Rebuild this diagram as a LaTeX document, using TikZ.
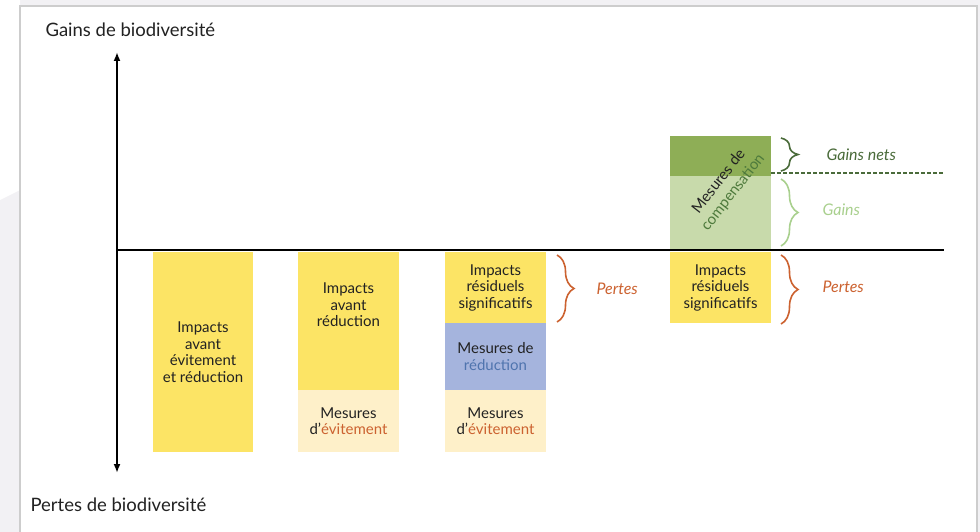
\documentclass[tikz,border=0pt]{standalone}
\usepackage{fontspec}
\setmainfont{Lato}
\usetikzlibrary{decorations.pathreplacing,arrows.meta}
\definecolor{bgray}{HTML}{F2F1F4}
\definecolor{fgray}{HTML}{CDCDCD}
\definecolor{yel}{HTML}{FCE465}
\definecolor{cream}{HTML}{FEF0C9}
\definecolor{blu}{HTML}{A5B4DD}
\definecolor{dgreen}{HTML}{8EAE56}
\definecolor{lgreen}{HTML}{C8DAAB}
\definecolor{orng}{HTML}{CC6230}
\definecolor{gtext}{HTML}{4A6B3A}
\definecolor{lgtext}{HTML}{A9D08E}
\definecolor{btext}{HTML}{4F74AE}
\definecolor{ctext}{HTML}{4E7A3C}
\definecolor{txt}{HTML}{222222}
\tikzset{
  box/.style={inner sep=0pt, outer sep=0pt, align=center, font=\fontsize{15}{16.5}\selectfont, text=txt},
  axis/.style={line width=2.2pt, -{Latex[length=9pt,width=7pt]}},
  brc/.style={decorate, decoration={brace, amplitude=17pt, raise=0pt, aspect=0.5}, line width=1.6pt},
  lbl/.style={font=\fontsize{16}{18}\selectfont\itshape, anchor=west},
}
\begin{document}
\begin{tikzpicture}[x=1pt,y=-1pt]
\useasboundingbox (0,0) rectangle (980,532);
\fill[bgray] (0,0) rectangle (980,532);
\fill[white] (0,0) -- (20,0) -- (20,190) -- (0,200) -- cycle;
\filldraw[fill=white, draw=fgray, line width=2pt] (20,6) rectangle (977,545);

% axes
\coordinate (o) at (117,250);
\coordinate (top) at (117,52);
\coordinate (bot) at (117,473);
\coordinate (xend) at (944,250);
\node[anchor=west, font=\fontsize{18.5}{20}\selectfont, text=txt] (gains) at (42,30) {Gains de biodiversité};
\node[anchor=west, font=\fontsize{18.5}{20}\selectfont, text=txt] (pertesb) at (27,505) {Pertes de biodiversité};

% column 1
\node[box, fill=yel, minimum width=100pt, minimum height=200pt] (c1) at (203,352) {Impacts\\avant\\évitement\\et réduction};

% column 2
\node[box, fill=yel, minimum width=101pt, minimum height=138pt] (c2a) at (348.5,321) {Impacts\\avant\\réduction\\[16pt]};
\node[box, fill=cream, minimum width=101pt, minimum height=62pt] (c2b) at (348.5,421) {Mesures\\d'\textcolor{orng}{évitement}};

% column 3
\node[box, fill=yel, minimum width=101pt, minimum height=71pt] (c3a) at (495.5,287.5) {Impacts\\résiduels\\significatifs};
\node[box, fill=blu, minimum width=101pt, minimum height=67pt] (c3b) at (495.5,356.5) {Mesures de\\\textcolor{btext}{réduction}};
\node[box, fill=cream, minimum width=101pt, minimum height=62pt] (c3c) at (495.5,421) {Mesures\\d'\textcolor{orng}{évitement}};

% column 4
\node[box, fill=yel, minimum width=101pt, minimum height=71pt] (c4a) at (720.5,287.5) {Impacts\\résiduels\\significatifs};
\node[box, fill=dgreen, minimum width=101pt, minimum height=40pt] (c4g) at (720.5,156) {};
\node[box, fill=lgreen, minimum width=101pt, minimum height=74pt] (c4l) at (720.5,213) {};
\node[box, rotate=52, font=\fontsize{15}{18}\selectfont] (comp) at (726,187) {Mesures de\\\textcolor{ctext}{compensation}};

\draw[line width=2.4pt, black] (o) -- (xend);
\draw[axis] (o) -- (top);
\draw[axis] (o) -- (bot);

% dashed line
\coordinate (dashend) at (944,173);
\draw[gtext, line width=1.6pt, dash pattern=on 4pt off 2pt] (c4g.south east) ++(0,-3) -- (dashend);

% braces
\draw[brc, gtext] (781,138) -- (781,171);
\draw[brc, lgtext] (781,179) -- (781,246);
\draw[brc, orng] (781,255) -- (781,324);
\draw[brc, orng] (557,255) -- (557,322);
\node[lbl, text=gtext] (gn) at (823,155) {Gains nets};
\node[lbl, text=lgtext] (g) at (819,210) {Gains};
\node[lbl, text=orng] (p4) at (819,287) {Pertes};
\node[lbl, text=orng] (p3) at (593,289) {Pertes};
\end{tikzpicture}
\end{document}
